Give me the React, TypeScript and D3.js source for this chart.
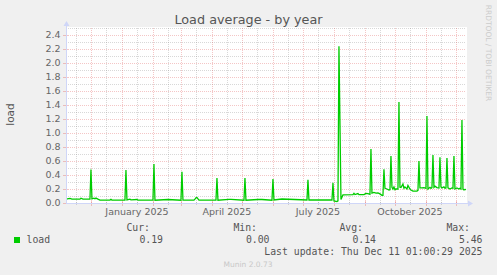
import React from "react";
import * as d3 from "d3";

// ---------- data ----------
const dates: string[] = [
  "2024-11-06","2024-11-10","2024-11-12","2024-11-20","2024-11-21","2024-11-23","2024-11-30",
  "2024-12-01","2024-12-02","2024-12-04","2024-12-05","2024-12-06","2024-12-08","2024-12-10",
  "2024-12-20","2024-12-21","2024-12-22","2025-01-04","2025-01-05","2025-01-06","2025-01-09",
  "2025-01-10","2025-01-16","2025-01-17","2025-02-01","2025-02-02","2025-02-03","2025-02-16",
  "2025-03-01","2025-03-02","2025-03-03","2025-03-14","2025-03-15","2025-03-16","2025-03-17",
  "2025-03-18","2025-03-19","2025-04-05","2025-04-06","2025-04-07","2025-04-18","2025-04-20",
  "2025-05-03","2025-05-04","2025-05-05","2025-05-17","2025-05-21","2025-05-31","2025-06-01",
  "2025-06-02","2025-06-10","2025-07-05","2025-07-06","2025-07-07","2025-07-30","2025-07-31",
  "2025-08-01","2025-08-04","2025-08-05","2025-08-06","2025-08-08","2025-08-10","2025-08-20",
  "2025-08-21","2025-08-22","2025-08-25","2025-08-26","2025-08-31","2025-09-02","2025-09-04",
  "2025-09-06","2025-09-07","2025-09-08","2025-09-10","2025-09-12","2025-09-14","2025-09-16",
  "2025-09-17","2025-09-18","2025-09-19","2025-09-20","2025-09-21","2025-09-23","2025-09-25",
  "2025-09-26","2025-09-27","2025-09-28","2025-09-29","2025-09-30","2025-10-01","2025-10-02",
  "2025-10-04","2025-10-05","2025-10-06","2025-10-07","2025-10-09","2025-10-10","2025-10-11",
  "2025-10-13","2025-10-14","2025-10-16","2025-10-17","2025-10-19","2025-10-21","2025-10-23",
  "2025-10-24","2025-10-25","2025-10-26","2025-10-28","2025-10-30","2025-11-01","2025-11-02",
  "2025-11-03","2025-11-05","2025-11-06","2025-11-07","2025-11-08","2025-11-09","2025-11-10",
  "2025-11-12","2025-11-14","2025-11-15","2025-11-16","2025-11-17","2025-11-19","2025-11-20",
  "2025-11-21","2025-11-22","2025-11-23","2025-11-25","2025-11-27","2025-11-28","2025-11-29",
  "2025-11-30","2025-12-02","2025-12-04","2025-12-05","2025-12-06","2025-12-07","2025-12-08",
  "2025-12-09","2025-12-10","2025-12-11",
];
const loadValues: number[] = [
  0.055,0.065,0.055,0.055,0.068,0.055,0.055,
  0.48,0.06,0.07,0.06,0.07,0.055,0.042,
  0.042,0.052,0.042,0.042,0.47,0.045,0.055,
  0.045,0.05,0.042,0.042,0.557,0.04,0.05,
  0.04,0.445,0.04,0.04,0.055,0.075,0.08,
  0.06,0.04,0.04,0.357,0.04,0.053,0.053,
  0.04,0.357,0.04,0.05,0.05,0.04,0.343,
  0.043,0.057,0.043,0.33,0.043,0.043,0.29,
  0.03,0.02,0.03,2.24,0.05,0.115,0.12,
  0.138,0.12,0.135,0.12,0.12,0.138,0.135,
  0.125,0.77,0.14,0.15,0.14,0.145,0.13,
  0.12,0.11,0.11,0.48,0.21,0.2,0.186,
  0.19,0.67,0.224,0.2,0.23,0.19,0.2,
  0.2,1.443,0.224,0.22,0.27,0.21,0.23,
  0.2,0.25,0.2,0.186,0.171,0.171,0.171,
  0.18,0.6,0.215,0.215,0.22,0.21,1.243,
  0.2,0.224,0.21,0.22,0.686,0.224,0.24,
  0.22,0.215,0.652,0.23,0.215,0.23,0.21,
  0.215,0.643,0.215,0.2,0.215,0.21,0.671,
  0.2,0.215,0.2,0.21,0.2,1.186,0.2,
  0.186,0.195,0.19,
];
const yTicks: number[] = [0, 0.2, 0.4, 0.6, 0.8, 1.0, 1.2, 1.4, 1.6, 1.8, 2.0, 2.2, 2.4];
const yMinorTicks: number[] = [0.1, 0.3, 0.5, 0.7, 0.9, 1.1, 1.3, 1.5, 1.7, 1.9, 2.1, 2.3, 2.5];
const xLabelDates: string[] = ["2025-01-16", "2025-04-16", "2025-07-16", "2025-10-16"];
const statHeaders: string[] = ["Cur:", "Min:", "Avg:", "Max:"];
const statValues: string[] = ["0.19", "0.00", "0.14", "5.46"];
const seriesName = "load";
const lastUpdate = "Last update: Thu Dec 11 01:00:29 2025";

// ---------- layout ----------
const W = 497, H = 275;
const PL = 66, PR = 466, PT = 28, PB = 203;
const START = new Date(Date.UTC(2024, 10, 6, 1, 0, 29));
const END = new Date(Date.UTC(2025, 11, 11, 1, 0, 29));
const FONT = "'DejaVu Sans', sans-serif";
const MONO = "'DejaVu Sans Mono', monospace";
const FG = "#666666";
const AXIS = "#CFD6F8";
const MGRID = "rgba(222,79,79,0.32)";
const GRID = "rgba(143,143,143,0.35)";
const LINE = "#00CC00";

const parse = d3.utcParse("%Y-%m-%d");

export default function App() {
  const x = d3.scaleUtc().domain([START, END]).range([PL, PR]);
  const y = d3.scaleLinear().domain([0, 2.5]).range([PB, PT]);

  const pts = dates.map((d, i) => ({ t: parse(d) as Date, v: loadValues[i] }));
  const line = d3
    .line<{ t: Date; v: number }>()
    .x((d) => x(d.t))
    .y((d) => y(d.v));

  const majorX = d3.utcMonth.range(START, END);
  const minorX = d3.utcMonth
    .range(d3.utcMonth.offset(START, -1), END)
    .map((m) => d3.utcDay.offset(m, 15))
    .filter((d) => d > START && d < END);
  const fmt = d3.utcFormat("%B %Y");
  const statX = [150, 257, 363, 470];
  const valX = [163, 269.5, 376, 482.5];

  return (
    <div style={{ position: "fixed", left: 0, top: 0, width: W, height: H }}>
      <svg width={W} height={H} style={{ display: "block" }}>
        <defs>
          <clipPath id="plotclip">
            <rect x={PL} y={PT - 1} width={PR - PL + 1} height={PB - PT + 1} />
          </clipPath>
        </defs>
        <rect x={0} y={0} width={W} height={H} fill="#F0F0F0" />
        <rect x={PL} y={PT - 1} width={PR - PL + 1} height={PB - PT + 1} fill="#FFFFFF" />

        {/* minor grid */}
        {yMinorTicks.map((v) => (
          <line key={"ym" + v} x1={PL} x2={PR} y1={Math.round(y(v)) + 0.5} y2={Math.round(y(v)) + 0.5}
            stroke={GRID} strokeDasharray="1,1" />
        ))}
        {minorX.map((d) => (
          <line key={"xm" + d.getTime()} x1={Math.round(x(d)) + 0.5} x2={Math.round(x(d)) + 0.5} y1={PT} y2={PB}
            stroke={GRID} strokeDasharray="1,1" />
        ))}
        {/* major grid */}
        {yTicks.filter((v) => v > 0).map((v) => (
          <line key={"yM" + v} x1={PL} x2={PR} y1={Math.round(y(v)) + 0.5} y2={Math.round(y(v)) + 0.5}
            stroke={MGRID} strokeDasharray="1,1" />
        ))}
        {majorX.map((d) => (
          <line key={"xM" + d.getTime()} x1={Math.round(x(d)) + 0.5} x2={Math.round(x(d)) + 0.5} y1={PT} y2={PB}
            stroke={MGRID} strokeDasharray="1,1" />
        ))}

        {/* ticks */}
        {minorX.map((d) => (
          <line key={"tm" + d.getTime()} x1={Math.round(x(d)) + 0.5} x2={Math.round(x(d)) + 0.5} y1={PB - 1} y2={PB + 2}
            stroke={GRID} />
        ))}
        {majorX.map((d) => (
          <line key={"tM" + d.getTime()} x1={Math.round(x(d)) + 0.5} x2={Math.round(x(d)) + 0.5} y1={PB - 2} y2={PB + 3}
            stroke={MGRID} />
        ))}
        {yTicks.map((v) => (
          <line key={"ty" + v} x1={PL - 3} x2={PL + 2} y1={Math.round(y(v)) + 0.5} y2={Math.round(y(v)) + 0.5}
            stroke={MGRID} />
        ))}

        {/* data */}
        <path d={line(pts) || ""} fill="none" stroke={LINE} strokeWidth={1.3} clipPath="url(#plotclip)" />

        {/* axes */}
        <line x1={PL} x2={PR + 4} y1={PB + 0.5} y2={PB + 0.5} stroke={AXIS} />
        <line x1={PL + 0.5} x2={PL + 0.5} y1={PB + 1} y2={PT - 4} stroke={AXIS} />
        <path d={`M${PR + 2},${PB - 2.5} L${PR + 7},${PB + 0.5} L${PR + 2},${PB + 3.5} Z`} fill={AXIS} />
        <path d={`M${PL - 2.5},${PT - 2} L${PL + 0.5},${PT - 7} L${PL + 3.5},${PT - 2} Z`} fill={AXIS} />

        {/* y labels */}
        {yTicks.map((v) => (
          <text key={"yl" + v} x={60.5} y={y(v) + 3.4} textAnchor="end" fontFamily={FONT} fontSize={9.5} fill={FG}>
            {v.toFixed(1)}
          </text>
        ))}
        {/* x labels */}
        {xLabelDates.map((s) => {
          const d = parse(s) as Date;
          return (
            <text key={"xl" + s} x={x(d)} y={215} textAnchor="middle" fontFamily={FONT} fontSize={9.5} fill={FG}>
              {fmt(d)}
            </text>
          );
        })}

        {/* title */}
        <text x={248.5} y={24} textAnchor="middle" fontFamily={FONT} fontSize={12.8} fill="#555555">
          Load average - by year
        </text>
        {/* y axis title */}
        <text transform="translate(14,114.5) rotate(-90)" textAnchor="middle" fontFamily={FONT} fontSize={10.5} fill="#555555">
          load
        </text>
        {/* watermark */}
        <text transform="translate(485.5,53) rotate(90)" textAnchor="middle" fontFamily={FONT} fontSize={7.5} fill="#CCCCCC">
          RRDTOOL / TOBI OETIKER
        </text>

        {/* legend */}
        {statHeaders.map((h, i) => (
          <text key={"sh" + h} x={statX[i]} y={231} textAnchor="end" fontFamily={MONO} fontSize={9.8} fill="#555555">
            {h}
          </text>
        ))}
        <rect x={14} y={237} width={6} height={6} fill={LINE} />
        <text x={26.5} y={243.3} fontFamily={MONO} fontSize={9.8} fill="#555555">
          {seriesName}
        </text>
        {statValues.map((v, i) => (
          <text key={"sv" + i} x={valX[i]} y={243.3} textAnchor="end" fontFamily={MONO} fontSize={9.8} fill="#555555">
            {v}
          </text>
        ))}
        <text x={482.5} y={255} textAnchor="end" fontFamily={MONO} fontSize={9.8} fill="#555555">
          {lastUpdate}
        </text>
        <text x={248} y={266.5} textAnchor="middle" fontFamily={FONT} fontSize={7.5} fill="#C8C8C8">
          Munin 2.0.73
        </text>
      </svg>
    </div>
  );
}
